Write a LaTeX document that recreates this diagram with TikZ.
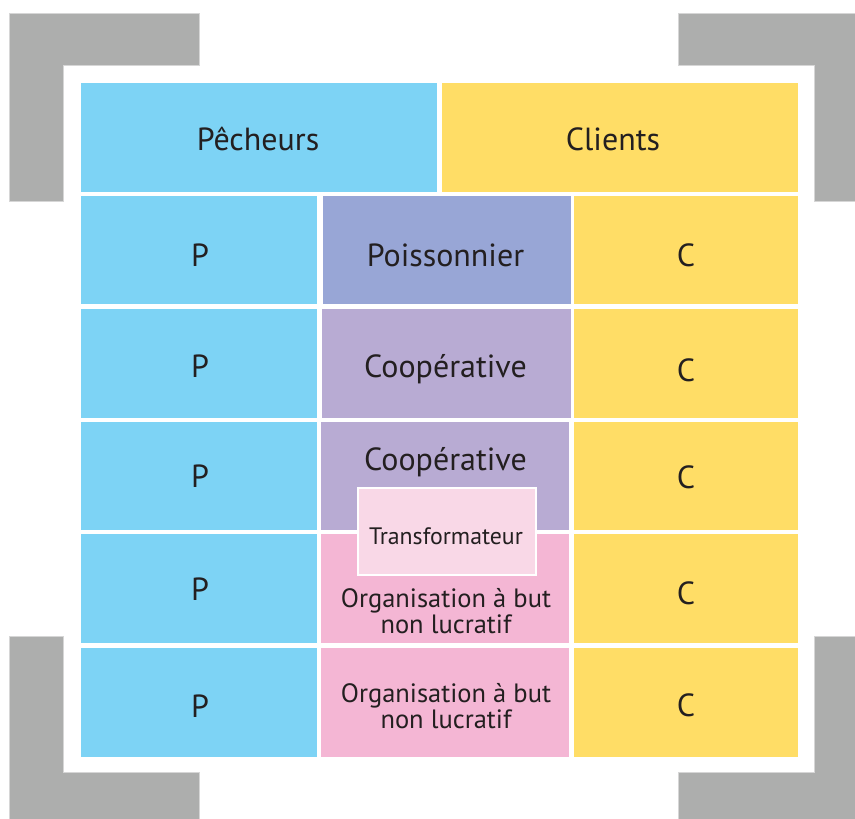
\documentclass[tikz,border=0pt]{standalone}
\usepackage{fontspec}
\setmainfont{PT Sans}
\definecolor{cblue}{HTML}{7DD3F5}
\definecolor{cyellow}{HTML}{FFDD66}
\definecolor{cpoiss}{HTML}{98A6D6}
\definecolor{ccoop}{HTML}{B8ABD3}
\definecolor{cpink}{HTML}{F4B6D4}
\definecolor{ctrans}{HTML}{F9D8E7}
\definecolor{cgray}{HTML}{ADAEAD}
\definecolor{cedge}{HTML}{D6D6D6}
\definecolor{ctext}{HTML}{231F20}
\tikzset{
  big/.style={anchor=base,text=ctext,inner sep=0pt,font=\fontsize{32}{32}\selectfont},
  mid/.style={anchor=base,text=ctext,inner sep=0pt,font=\fontsize{26.5}{26.5}\selectfont},
  small/.style={anchor=base,text=ctext,inner sep=0pt,font=\fontsize{23.8}{23.8}\selectfont},
  corner/.style={fill=cgray,draw=cedge,line width=0.8pt}
}
\begin{document}
\begin{tikzpicture}[x=1pt,y=-1pt]
\useasboundingbox (0,0) rectangle (855,819);
% gray corner brackets
\path[corner] (9,13) -- (199,13) -- (199,65) -- (63,65) -- (63,201) -- (9,201) -- cycle;
\path[corner] (858,13) -- (678,13) -- (678,65) -- (814,65) -- (814,201) -- (858,201) -- cycle;
\path[corner] (9,822) -- (9,636) -- (63,636) -- (63,772) -- (199,772) -- (199,822) -- cycle;
\path[corner] (858,822) -- (678,822) -- (678,772) -- (814,772) -- (814,636) -- (858,636) -- cycle;
% header
\fill[cblue] (81,83) rectangle (437,192);
\fill[cyellow] (442,83) rectangle (798,192);
% left and right columns
\foreach \a/\b in {196/304,309/418,422/530,534/643,648/757}{
  \fill[cblue] (81,\a) rectangle (317,\b);
  \fill[cyellow] (574,\a) rectangle (798,\b);
}
% middle column
\fill[cpoiss] (323,196) rectangle (571,304);
\fill[ccoop] (322,309) rectangle (571,418);
\fill[ccoop] (321,422) rectangle (569,530);
\fill[cpink] (321,534) rectangle (569,643);
\fill[cpink] (321,648) rectangle (569,757);
% transformateur box
\node[draw=white,line width=2.5pt,fill=ctrans,minimum width=178pt,minimum height=87pt,inner sep=0pt] (tbox) at (447,531.5) {};
% texts
\node[big] (peche) at (258,150) {Pêcheurs};
\node[big] (cli) at (613,150) {Clients};
\node[big] (p1) at (200,266) {P};
\node[big] (p2) at (200,377) {P};
\node[big] (p3) at (200,487) {P};
\node[big] (p4) at (200,600) {P};
\node[big] (p5) at (200,717) {P};
\node[big] (c1) at (686,266) {C};
\node[big] (c2) at (686,381) {C};
\node[big] (c3) at (686,488) {C};
\node[big] (c4) at (686,604) {C};
\node[big] (c5) at (686,716) {C};
\node[big] (poi) at (445.5,266) {Poissonnier};
\node[big] (coop1) at (445.5,377) {Coopérative};
\node[big] (coop2) at (445.5,470) {Coopérative};
\node[small] (trans) at (446,544) {Transformateur};
\node[mid] (org1a) at (446,607) {Organisation à but};
\node[mid] (org1b) at (446,633) {non lucratif};
\node[mid] (org2a) at (446,702) {Organisation à but};
\node[mid] (org2b) at (446,728) {non lucratif};
\end{tikzpicture}
\end{document}
